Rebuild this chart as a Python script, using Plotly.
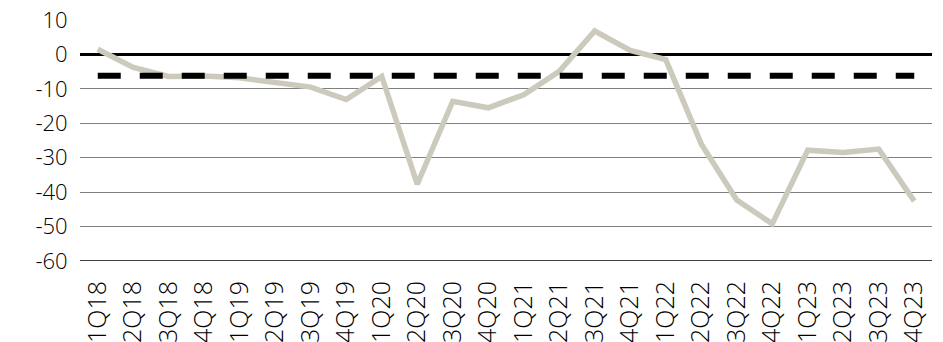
import plotly.graph_objects as go

quarters = ["1Q18", "2Q18", "3Q18", "4Q18", "1Q19", "2Q19", "3Q19", "4Q19",
            "1Q20", "2Q20", "3Q20", "4Q20", "1Q21", "2Q21", "3Q21", "4Q21",
            "1Q22", "2Q22", "3Q22", "4Q22", "1Q23", "2Q23", "3Q23", "4Q23"]
values = [1.5, -3.8, -6.4, -6.3, -6.8, -8.0, -9.5, -13.1,
          -6.4, -37.7, -13.6, -15.5, -11.7, -4.9, 6.8, 1.2,
          -1.5, -26.0, -42.3, -49.2, -27.8, -28.5, -27.5, -42.6]
average = [-6.2] * len(quarters)
y_ticks = [10, 0, -10, -20, -30, -40, -50, -60]

yfont = dict(family="Open Sans", size=22, color="#000000", weight=300)
xfont = dict(family="Open Sans", size=25, color="#000000", weight=300)

fig = go.Figure()
fig.add_trace(go.Scatter(x=quarters, y=values, mode="lines",
                         line=dict(color="#CCCABC", width=5.5),
                         showlegend=False))
fig.add_trace(go.Scatter(x=quarters, y=average, mode="lines",
                         line=dict(color="#000000", width=6, dash="23px,19px"),
                         hoverinfo="skip", showlegend=False))

fig.update_layout(
    width=943, height=342,
    margin=dict(l=80, r=11, t=20, b=81),
    paper_bgcolor="white", plot_bgcolor="white",
    font=yfont,
    xaxis=dict(type="category", range=[-0.5, len(quarters) - 0.5], automargin=False,
               showgrid=False, zeroline=False, showline=False,
               tickangle=-90, ticks="outside", ticklen=9, tickcolor="rgba(0,0,0,0)",
               tickfont=xfont),
    yaxis=dict(range=[-60, 10], tickvals=y_ticks, ticktext=[str(v) for v in y_ticks],
               automargin=False,
               showgrid=True, gridcolor="#808080", gridwidth=1.3,
               zeroline=True, zerolinecolor="#000000", zerolinewidth=2.5,
               showline=False, ticks="outside", ticklen=7, tickcolor="rgba(0,0,0,0)",
               tickfont=yfont),
)
fig.add_shape(type="line", xref="paper", yref="y", x0=0, x1=1, y0=-60, y1=-60,
              line=dict(color="#000000", width=1.3), layer="below")

fig.write_html("out.html")
